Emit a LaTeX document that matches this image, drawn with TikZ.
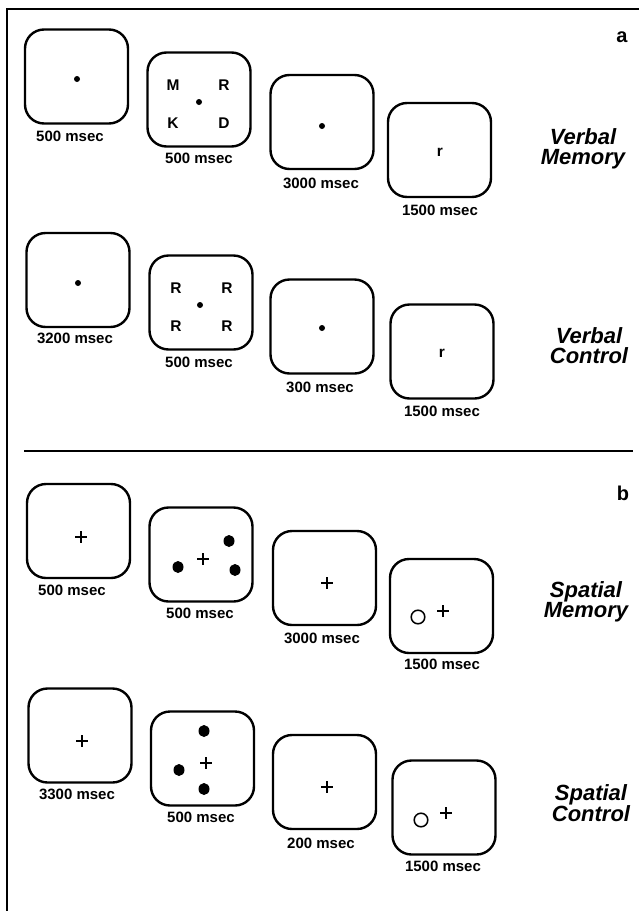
\documentclass[tikz,border=0pt]{standalone}
\usepackage{fontspec}
\setmainfont{Liberation Sans}
\begin{document}
\begin{tikzpicture}[x=1pt,y=-1pt,
  screen/.style={draw, line width=2.4pt, rounded corners=19pt, minimum width=103pt, minimum height=94pt, inner sep=0pt},
  dur/.style={inner sep=0pt, font=\bfseries\fontsize{15}{16}\selectfont},
  letter/.style={inner sep=0pt, font=\bfseries\fontsize{15.5}{16}\selectfont},
  cond/.style={inner sep=0pt, anchor=north, align=center, font=\bfseries\itshape\fontsize{22}{20}\selectfont},
  panel/.style={inner sep=0pt, font=\bfseries\fontsize{20}{22}\selectfont},
  fix/.style={line width=1.2pt},
  probe/.style={line width=1.5pt}
]
\useasboundingbox (0,0) rectangle (638,911);
% frame
\draw[line width=2.3pt] (7,913) -- (7,9) -- (640,9);
\draw[line width=2pt] (24,451) -- (633,451);

% ---------- Verbal Memory ----------
\node[screen] (vm1) at (76.5,76.5) {};
\node[screen] (vm2) at (199,99.5) {};
\node[screen] (vm3) at (322,122) {};
\node[screen] (vm4) at (439.5,150) {};
\fill (77,79) circle (3);
\fill (199,102) circle (3);
\fill (322,126) circle (3);
\node[letter] (vmM) at (173,85) {M};
\node[letter] (vmR) at (224,85) {R};
\node[letter] (vmK) at (173,123) {K};
\node[letter] (vmD) at (224,123) {D};
\node[letter] (vmr) at (440,152) {r};
\node[dur] (vmt1) at (70,136) {500 msec};
\node[dur] (vmt2) at (199,158) {500 msec};
\node[dur] (vmt3) at (321,183) {3000 msec};
\node[dur] (vmt4) at (440,210) {1500 msec};
\node[cond] (vmlab) at (583,128) {Verbal\\Memory};
\node[panel] (pa) at (622,37) {a};

% ---------- Verbal Control ----------
\node[screen] (vc1) at (78,280) {};
\node[screen] (vc2) at (201,302.5) {};
\node[screen] (vc3) at (322,326.5) {};
\node[screen] (vc4) at (442,351.5) {};
\fill (78,283) circle (3);
\fill (200,305) circle (3);
\fill (322,328) circle (3);
\node[letter] (vcR1) at (176,288) {R};
\node[letter] (vcR2) at (227,288) {R};
\node[letter] (vcR3) at (176,326) {R};
\node[letter] (vcR4) at (227,326) {R};
\node[letter] (vcr) at (442,353) {r};
\node[dur] (vct1) at (75,338) {3200 msec};
\node[dur] (vct2) at (199,362) {500 msec};
\node[dur] (vct3) at (320,387) {300 msec};
\node[dur] (vct4) at (442,411) {1500 msec};
\node[cond] (vclab) at (589,327) {Verbal\\Control};

% ---------- Spatial Memory ----------
\node[screen] (sm1) at (78.5,531) {};
\node[screen] (sm2) at (201,554.5) {};
\node[screen] (sm3) at (324.5,578) {};
\node[screen] (sm4) at (441.5,606) {};
\draw[fix] (75,537) -- (87,537) (81,531) -- (81,543);
\draw[fix] (197,559) -- (209,559) (203,553) -- (203,565);
\draw[fix] (321,583) -- (333,583) (327,577) -- (327,589);
\draw[fix] (437,611) -- (449,611) (443,605) -- (443,617);
\fill (178,567) ellipse (5.5 and 6);
\fill (229,541) ellipse (5.5 and 6);
\fill (235,570) ellipse (5.5 and 6);
\draw[probe] (418,617) circle (6.8);
\node[dur] (smt1) at (72,590) {500 msec};
\node[dur] (smt2) at (200,613) {500 msec};
\node[dur] (smt3) at (322,638) {3000 msec};
\node[dur] (smt4) at (442,664) {1500 msec};
\node[cond] (smlab) at (586,581) {Spatial\\Memory};
\node[panel] (pb) at (623,493) {b};

% ---------- Spatial Control ----------
\node[screen] (sc1) at (80,735.5) {};
\node[screen] (sc2) at (202.5,758.5) {};
\node[screen] (sc3) at (324.5,782) {};
\node[screen] (sc4) at (444,807.5) {};
\draw[fix] (76,741) -- (88,741) (82,735) -- (82,747);
\draw[fix] (200,763) -- (212,763) (206,757) -- (206,769);
\draw[fix] (321,787) -- (333,787) (327,781) -- (327,793);
\draw[fix] (440,813) -- (452,813) (446,807) -- (446,819);
\fill (204,731) ellipse (5.5 and 6);
\fill (179,770) ellipse (5.5 and 6);
\fill (204,789) ellipse (5.5 and 6);
\draw[probe] (421,820) circle (6.8);
\node[dur] (sct1) at (77,794) {3300 msec};
\node[dur] (sct2) at (201,817) {500 msec};
\node[dur] (sct3) at (321,843) {200 msec};
\node[dur] (sct4) at (443,866) {1500 msec};
\node[cond] (sclab) at (591,784) {Spatial\\Control};
\end{tikzpicture}
\end{document}
